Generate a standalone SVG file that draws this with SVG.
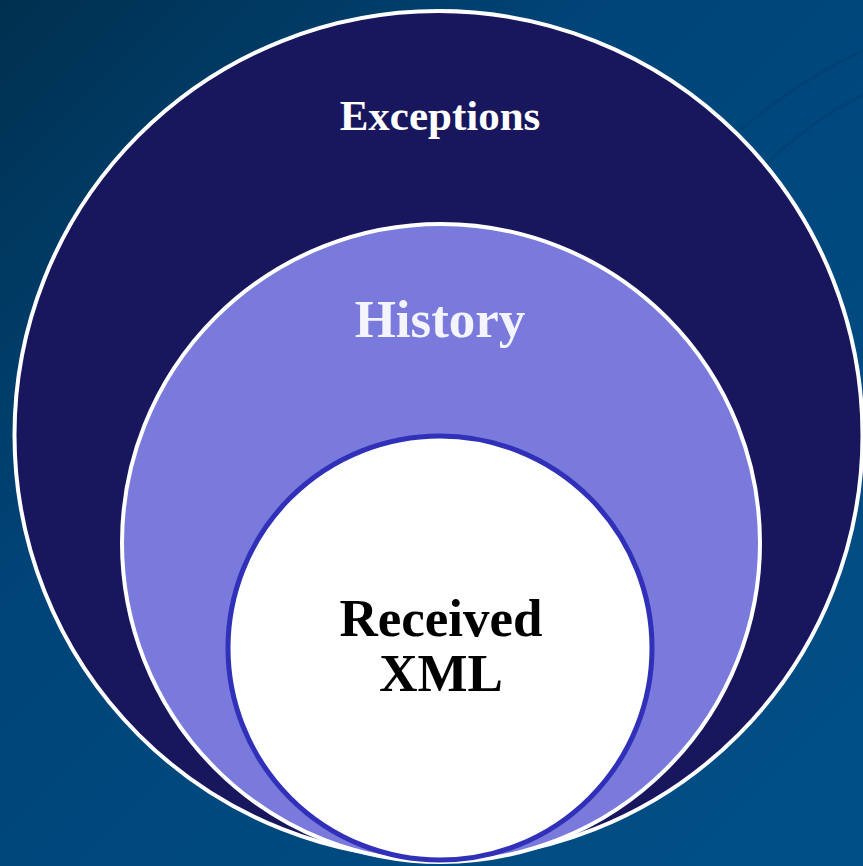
<svg xmlns="http://www.w3.org/2000/svg" width="863" height="866" viewBox="0 0 863 866">
<defs>
<linearGradient id="bg" x1="0" y1="0" x2="1" y2="1">
<stop offset="0" stop-color="#00304f"/>
<stop offset="0.35" stop-color="#004478"/>
<stop offset="1" stop-color="#005088"/>
</linearGradient>
<style>
.lbl{font-family:"Liberation Serif","Times New Roman",serif;font-weight:bold;text-anchor:middle}
</style>
</defs>
<rect width="863" height="866" fill="url(#bg)"/>
<path d="M740 130 Q800 80 863 50" stroke="#003d6e" stroke-width="3" fill="none" opacity="0.5"/>
<path d="M760 170 Q810 120 863 95" stroke="#003d6e" stroke-width="3" fill="none" opacity="0.5"/>
<g id="exceptions">
<circle cx="438.5" cy="435" r="424" fill="#18165c" stroke="#ffffff" stroke-width="4"/>
<text class="lbl" x="440" y="130" font-size="43" fill="#ffffff">Exceptions</text>
</g>
<g id="history">
<circle cx="441" cy="543" r="319" fill="#7a7adc" stroke="#ffffff" stroke-width="4"/>
<text class="lbl" x="440" y="337" font-size="53" fill="#f4f4ff">History</text>
</g>
<g id="received">
<circle cx="440" cy="648" r="212" fill="#ffffff" stroke="#3030b8" stroke-width="5"/>
<text class="lbl" x="441" y="636" font-size="53" fill="#000000">Received</text>
<text class="lbl" x="441" y="691" font-size="53" fill="#000000">XML</text>
</g>
<g id="connectors"/>
</svg>
